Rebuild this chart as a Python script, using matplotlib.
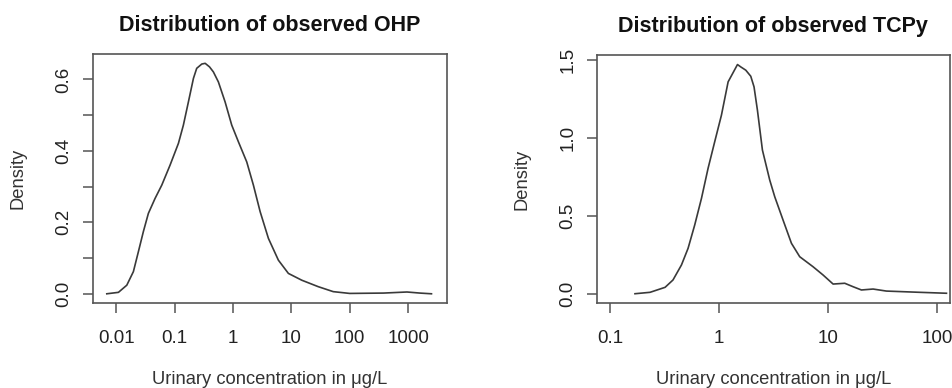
import numpy as np
import matplotlib
matplotlib.use("Agg")
import matplotlib.pyplot as plt

plt.rcParams['font.family'] = ['Liberation Sans', 'DejaVu Sans']

# density curves (x in ug/L, y = density)
ohp_conc = [0.00693, 0.01096, 0.01524, 0.01977, 0.0241, 0.0293, 0.0357,
            0.0465, 0.0605, 0.0839, 0.1167, 0.1419, 0.173, 0.211, 0.240,
            0.293, 0.335, 0.398, 0.463, 0.564, 0.735, 0.955, 1.245, 1.726,
            2.244, 2.924, 4.055, 6.01, 8.91, 15.1, 28.8, 52.2, 100, 380,
            955, 1585, 2510]
ohp_dens = [0.0, 0.004, 0.024, 0.062, 0.118, 0.174, 0.225,
            0.267, 0.304, 0.360, 0.421, 0.472, 0.537, 0.603, 0.631,
            0.643, 0.645, 0.635, 0.621, 0.593, 0.537, 0.472, 0.425, 0.369,
            0.304, 0.230, 0.155, 0.094, 0.057, 0.038, 0.020, 0.006, 0.001,
            0.002, 0.005, 0.002, 0.0]

tcpy_conc = [0.1694, 0.2328, 0.320, 0.378, 0.452, 0.520, 0.598, 0.690,
             0.793, 0.912, 1.052, 1.211, 1.476, 1.581, 1.758, 1.954, 2.094,
             2.249, 2.500, 2.917, 3.243, 3.864, 4.613, 5.495, 7.278, 8.995,
             11.12, 14.22, 16.94, 20.23, 25.88, 34.28, 69.3, 121.9]
tcpy_dens = [0.0, 0.009, 0.041, 0.088, 0.184, 0.291, 0.440, 0.611,
             0.803, 0.973, 1.144, 1.357, 1.468, 1.453, 1.432, 1.393, 1.325,
             1.176, 0.920, 0.728, 0.621, 0.472, 0.323, 0.237, 0.173, 0.120,
             0.062, 0.067, 0.045, 0.024, 0.030, 0.017, 0.009, 0.003]

ohp_xticks = [0.01, 0.1, 1, 10, 100, 1000]
ohp_xlabels = ['0.01', '0.1', '1', '10', '100', '1000']
tcpy_xticks = [0.1, 1, 10, 100]
tcpy_xlabels = ['0.1', '1', '10', '100']

ohp_yticks = [0.0, 0.1, 0.2, 0.3, 0.4, 0.5, 0.6]
ohp_ylabels = ['0.0', '', '0.2', '', '0.4', '', '0.6']
tcpy_yticks = [0.0, 0.5, 1.0, 1.5]
tcpy_ylabels = ['0.0', '0.5', '1.0', '1.5']

line_col = '#3a3a3a'
box_col = '#555555'


def r_style_panel(ax, conc, dens, title, xticks, xlabels, yticks, ylabels, xlim, ylim):
    ax.plot(conc, dens, color=line_col, lw=1.2, solid_joinstyle='round')
    ax.set_xscale('log')
    ax.set_xlim(*xlim)
    ax.set_ylim(*ylim)
    ax.minorticks_off()
    ax.set_xticks(xticks)
    ax.set_xticklabels(xlabels)
    ax.set_yticks(yticks)
    ax.set_yticklabels(ylabels, rotation=90, va='center')
    for s in ax.spines.values():
        s.set_color(box_col)
        s.set_linewidth(1.2)
    ax.tick_params(direction='out', length=7, width=1.1, color=box_col,
                   labelsize=13.5, pad=7.5, labelcolor='#222222')
    ax.tick_params(axis='x', pad=13)
    ax.set_title(title, fontsize=15.5, fontweight='bold', pad=16.5, color='#111111')
    ax.set_xlabel('Urinary concentration in μg/L', fontsize=13.2, labelpad=17,
                  color='#333333')
    ax.set_ylabel('Density', fontsize=13.2, labelpad=21, color='#333333')


fig = plt.figure(figsize=(9.52, 3.88), dpi=100)
ax1 = fig.add_axes([0.0974, 0.2198, 0.3718, 0.640])
ax2 = fig.add_axes([0.6268, 0.2198, 0.3712, 0.638])

r_style_panel(ax1, ohp_conc, ohp_dens, 'Distribution of observed OHP',
              ohp_xticks, ohp_xlabels, ohp_yticks, ohp_ylabels,
              (0.00398, 4571), (-0.025, 0.67))
r_style_panel(ax2, tcpy_conc, tcpy_dens, 'Distribution of observed TCPy',
              tcpy_xticks, tcpy_xlabels, tcpy_yticks, tcpy_ylabels,
              (0.0755, 131.6), (-0.0576, 1.528))

fig.savefig('out.png', dpi=100)
